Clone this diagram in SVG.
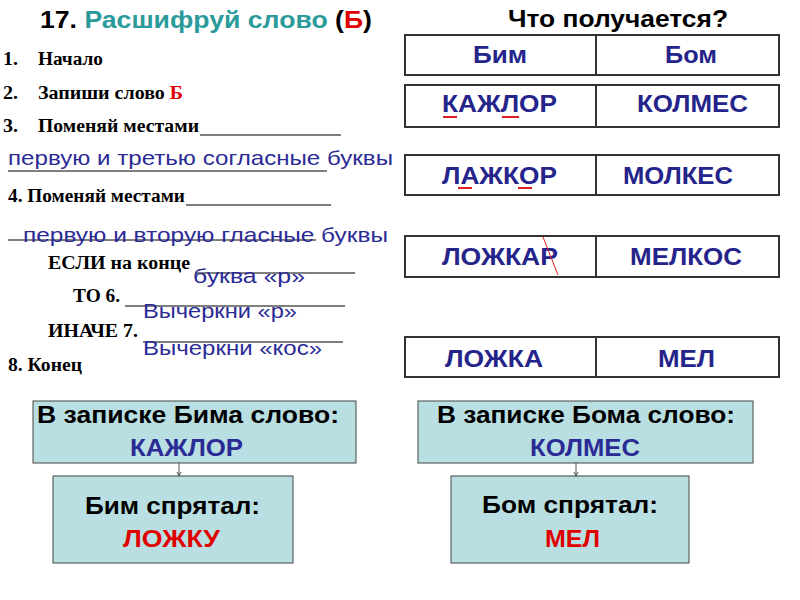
<svg xmlns="http://www.w3.org/2000/svg" width="800" height="600" viewBox="0 0 800 600">
<style>
text{white-space:pre}
.t{font-family:"Liberation Serif","Times New Roman",serif;font-weight:bold;font-size:18px;fill:#000}
.b{font-family:"Liberation Sans",Arial,sans-serif;font-size:21px;fill:#2b2b96}
.h{font-family:"Liberation Sans",Arial,sans-serif;font-weight:bold;font-size:24px;fill:#000}
.w{font-family:"Liberation Sans",Arial,sans-serif;font-weight:bold;font-size:23px;fill:#24248a}
.row{fill:#fff;stroke:#333;stroke-width:2}
.box{fill:#b9dfe2;stroke:#444;stroke-width:1}
.bt{font-family:"Liberation Sans",Arial,sans-serif;font-weight:bold;font-size:24px}
.ln{stroke:#000;stroke-width:1}
.red{stroke:#e02020;stroke-width:2}
</style>
<rect width="800" height="600" fill="#fff"/>
<g id="title">
<text class="h" x="40" y="28" textLength="332" lengthAdjust="spacingAndGlyphs">17. <tspan fill="#2a9a9a">Расшифруй слово</tspan> (<tspan fill="#e00000">Б</tspan>)</text>
<text class="h" x="508" y="27" textLength="220" lengthAdjust="spacingAndGlyphs">Что получается?</text>
</g>
<g id="algorithm">
<text class="t" x="3" y="65" textLength="15" lengthAdjust="spacingAndGlyphs">1.</text><text class="t" x="38" y="65" textLength="65" lengthAdjust="spacingAndGlyphs">Начало</text>
<text class="t" x="3" y="99" textLength="15" lengthAdjust="spacingAndGlyphs">2.</text><text class="t" x="38" y="99" textLength="145" lengthAdjust="spacingAndGlyphs">Запиши слово <tspan fill="#e00000">Б</tspan></text>
<text class="t" x="3" y="132" textLength="15" lengthAdjust="spacingAndGlyphs">3.</text><text class="t" x="38" y="132" textLength="161" lengthAdjust="spacingAndGlyphs">Поменяй местами</text>
<line class="ln" x1="200" y1="135" x2="341" y2="135"/>
<text class="b" x="8" y="165" textLength="385" lengthAdjust="spacingAndGlyphs">первую и третью согласные буквы</text>
<line class="ln" x1="8" y1="171" x2="327" y2="171"/>
<text class="t" x="8" y="202" textLength="177" lengthAdjust="spacingAndGlyphs">4. Поменяй местами</text>
<line class="ln" x1="186" y1="205" x2="331" y2="205"/>
<line class="ln" x1="8" y1="240" x2="316" y2="240"/>
<text class="b" x="23" y="242" textLength="365" lengthAdjust="spacingAndGlyphs">первую и вторую гласные буквы</text>
<text class="t" x="48" y="269" textLength="142" lengthAdjust="spacingAndGlyphs">ЕСЛИ на конце</text>
<line class="ln" x1="195" y1="273" x2="355" y2="273"/>
<text class="b" x="193" y="283" textLength="112" lengthAdjust="spacingAndGlyphs">буква «р»</text>
<text class="t" x="73" y="302" textLength="47" lengthAdjust="spacingAndGlyphs">ТО 6.</text>
<line class="ln" x1="125" y1="306" x2="345" y2="306"/>
<text class="b" x="143" y="318" textLength="154" lengthAdjust="spacingAndGlyphs">Вычеркни «р»</text>
<text class="t" x="48" y="337" textLength="90" lengthAdjust="spacingAndGlyphs">ИНАЧЕ 7.</text>
<line class="ln" x1="143" y1="342" x2="343" y2="342"/>
<text class="b" x="143" y="355" textLength="179" lengthAdjust="spacingAndGlyphs">Вычеркни «кос»</text>
<text class="t" x="8" y="371" textLength="74" lengthAdjust="spacingAndGlyphs">8. Конец</text>
</g>
<g id="row-header">
<rect class="row" x="405" y="35" width="374" height="40"/>
<line class="row" x1="596" y1="35" x2="596" y2="75"/>
<text class="w" x="473" y="63" textLength="54" lengthAdjust="spacingAndGlyphs">Бим</text>
<text class="w" x="665" y="63" textLength="52" lengthAdjust="spacingAndGlyphs">Бом</text>
</g>
<g id="row-1">
<rect class="row" x="405" y="85" width="374" height="42"/>
<line class="row" x1="596" y1="85" x2="596" y2="127"/>
<text class="w" x="442" y="112" textLength="115" lengthAdjust="spacingAndGlyphs">КАЖЛОР</text>
<text class="w" x="637" y="112" textLength="111" lengthAdjust="spacingAndGlyphs">КОЛМЕС</text>
<line class="red" x1="443" y1="117" x2="457" y2="117"/>
<line class="red" x1="502" y1="117" x2="519" y2="117"/>
</g>
<g id="row-2">
<rect class="row" x="405" y="155" width="374" height="40"/>
<line class="row" x1="596" y1="155" x2="596" y2="195"/>
<text class="w" x="442" y="184" textLength="115" lengthAdjust="spacingAndGlyphs">ЛАЖКОР</text>
<text class="w" x="623" y="184" textLength="110" lengthAdjust="spacingAndGlyphs">МОЛКЕС</text>
<line class="red" x1="458" y1="188" x2="472" y2="188"/>
<line class="red" x1="518" y1="188" x2="532" y2="188"/>
</g>
<g id="row-3">
<rect class="row" x="405" y="236" width="374" height="41"/>
<line class="row" x1="596" y1="236" x2="596" y2="277"/>
<text class="w" x="442" y="265" textLength="116" lengthAdjust="spacingAndGlyphs">ЛОЖКАР</text>
<text class="w" x="630" y="265" textLength="112" lengthAdjust="spacingAndGlyphs">МЕЛКОС</text>
<line stroke="#e02020" stroke-width="1" x1="543" y1="237" x2="558" y2="275"/>
</g>
<g id="row-4">
<rect class="row" x="405" y="337" width="374" height="40"/>
<line class="row" x1="596" y1="337" x2="596" y2="377"/>
<text class="w" x="445" y="367" textLength="98" lengthAdjust="spacingAndGlyphs">ЛОЖКА</text>
<text class="w" x="658" y="367" textLength="57" lengthAdjust="spacingAndGlyphs">МЕЛ</text>
</g>
<g id="connectors" stroke="#555" stroke-width="1">
<line x1="179" y1="463" x2="179" y2="476"/>
<path d="M177 472 L179 476 L181 472" fill="none"/>
<line x1="576" y1="463" x2="576" y2="476"/>
<path d="M574 472 L576 476 L578 472" fill="none"/>
</g>
<g id="bim-note">
<rect class="box" x="33" y="401" width="323" height="62"/>
<text class="bt" x="37" y="423" fill="#000" textLength="302" lengthAdjust="spacingAndGlyphs">В записке Бима слово:</text>
<text class="bt" x="130" y="456" fill="#2b2b96" textLength="113" lengthAdjust="spacingAndGlyphs">КАЖЛОР</text>
</g>
<g id="bim-hid">
<rect class="box" x="53" y="476" width="240" height="87"/>
<text class="bt" x="85" y="514" fill="#000" textLength="175" lengthAdjust="spacingAndGlyphs">Бим спрятал:</text>
<text class="bt" x="123" y="547" fill="#e00000" textLength="97" lengthAdjust="spacingAndGlyphs">ЛОЖКУ</text>
</g>
<g id="bom-note">
<rect class="box" x="418" y="401" width="335" height="62"/>
<text class="bt" x="437" y="423" fill="#000" textLength="298" lengthAdjust="spacingAndGlyphs">В записке Бома слово:</text>
<text class="bt" x="530" y="456" fill="#2b2b96" textLength="110" lengthAdjust="spacingAndGlyphs">КОЛМЕС</text>
</g>
<g id="bom-hid">
<rect class="box" x="451" y="476" width="238" height="87"/>
<text class="bt" x="482" y="513" fill="#000" textLength="176" lengthAdjust="spacingAndGlyphs">Бом спрятал:</text>
<text class="bt" x="545" y="547" fill="#e00000" textLength="55" lengthAdjust="spacingAndGlyphs">МЕЛ</text>
</g>
</svg>
